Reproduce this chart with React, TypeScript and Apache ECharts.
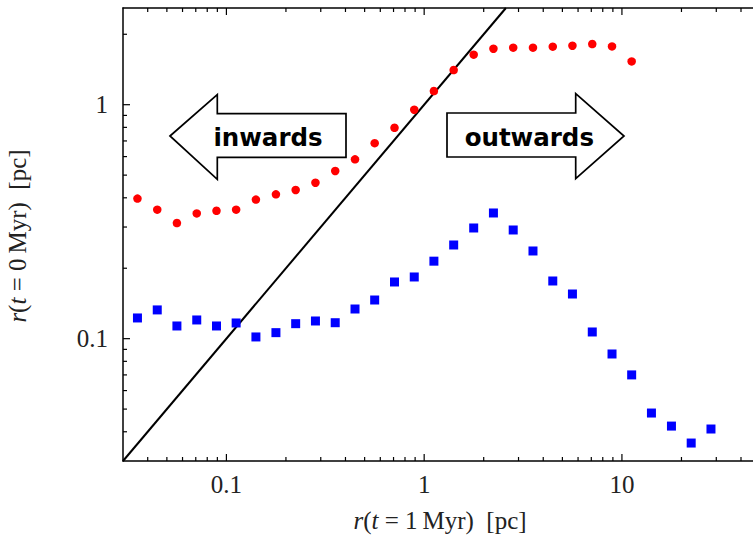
import React, { useEffect, useRef } from "react";
import * as echarts from "echarts";

// r(t = 1 Myr) bin centres [pc]
const xValues = [
  0.0355, 0.0447, 0.0562, 0.0708, 0.0891, 0.112, 0.141, 0.178, 0.224, 0.282,
  0.355, 0.447, 0.562, 0.708, 0.891, 1.12, 1.41, 1.78, 2.24, 2.82,
  3.55, 4.47, 5.62, 7.08, 8.91, 11.2, 14.1, 17.8, 22.4, 28.2,
];
// red circles: r(t = 0 Myr)
const redValues = [
  0.397, 0.356, 0.312, 0.343, 0.352, 0.356, 0.393, 0.414, 0.432, 0.464,
  0.521, 0.584, 0.685, 0.797, 0.952, 1.144, 1.407, 1.636, 1.735, 1.753,
  1.753, 1.77, 1.787, 1.817, 1.775, 1.531,
];
// blue squares: r(t = 0 Myr)
const blueValues = [
  0.1226, 0.1327, 0.1133, 0.1202, 0.1133, 0.1167, 0.1017, 0.1061, 0.1159, 0.119,
  0.117, 0.1339, 0.1463, 0.1747, 0.1835, 0.2144, 0.2514, 0.2972, 0.3445, 0.2914,
  0.237, 0.1764, 0.1552, 0.1068, 0.086, 0.07, 0.0481, 0.0423, 0.0358, 0.0411,
];

const X_MIN = 0.03;
const X_MAX = 46;
const Y_MIN = 0.03;
const Y_MAX = 2.59;

const xMajorTicks = [0.1, 1, 10];
const xMinorTicks = [
  0.04, 0.05, 0.06, 0.07, 0.08, 0.09,
  0.2, 0.3, 0.4, 0.5, 0.6, 0.7, 0.8, 0.9,
  2, 3, 4, 5, 6, 7, 8, 9,
  20, 30, 40,
];
const yMajorTicks = [0.1, 1];
const yMinorTicks = [
  0.04, 0.05, 0.06, 0.07, 0.08, 0.09,
  0.2, 0.3, 0.4, 0.5, 0.6, 0.7, 0.8, 0.9,
  2,
];

const SERIF = "Liberation Serif";
const TEXT_COLOR = "#222";

function fmtPow(v: number) {
  const l = Math.log10(v);
  const e = Math.round(l);
  if (Math.abs(l - e) > 1e-6) return "";
  return e < 0 ? v.toFixed(-e) : String(Math.round(v));
}

export default function App() {
  const ref = useRef<HTMLDivElement>(null);
  useEffect(() => {
    if (!ref.current) return;
    const chart = echarts.init(ref.current, null, { renderer: "svg" });

    const axisLine = { show: true, onZero: false, lineStyle: { color: "#000", width: 1.5 } };
    const labelStyle = {
      fontFamily: SERIF,
      fontSize: 25,
      color: TEXT_COLOR,
      formatter: fmtPow,
      showMinLabel: false,
      showMaxLabel: false,
    };

    const xTickData = [
      ...xMajorTicks.map((v) => [v, Y_MIN, 1]),
      ...xMinorTicks.map((v) => [v, Y_MIN, 0]),
    ];
    const yTickData = [
      ...yMajorTicks.map((v) => [X_MIN, v, 1]),
      ...yMinorTicks.map((v) => [X_MIN, v, 0]),
    ];

    const richBase = { fontFamily: SERIF, fontSize: 25, fill: TEXT_COLOR };
    const rich = {
      i: { ...richBase, fontStyle: "italic" },
      n: { ...richBase },
    };

    chart.setOption({
      animation: false,
      grid: { left: 123, top: 8, right: 0, bottom: 75, show: false },
      xAxis: [
        {
          type: "log",
          min: X_MIN,
          max: X_MAX,
          position: "bottom",
          axisLine,
          axisTick: { show: false },
          minorTick: { show: false },
          splitLine: { show: false },
          axisLabel: { ...labelStyle, margin: 11 },
        },
        {
          type: "log",
          min: X_MIN,
          max: X_MAX,
          position: "top",
          axisLine,
          axisTick: { show: false },
          splitLine: { show: false },
          axisLabel: { show: false },
        },
      ],
      yAxis: [
        {
          type: "log",
          min: Y_MIN,
          max: Y_MAX,
          position: "left",
          axisLine,
          axisTick: { show: false },
          minorTick: { show: false },
          splitLine: { show: false },
          axisLabel: { ...labelStyle, margin: 15 },
        },
      ],
      series: [
        {
          type: "line",
          data: [
            [X_MIN, Y_MIN],
            [Y_MAX, Y_MAX],
          ],
          symbol: "none",
          lineStyle: { color: "#000", width: 2 },
          silent: true,
          z: 1,
        },
        {
          type: "scatter",
          data: redValues.map((v, i) => [xValues[i], v]),
          symbol: "circle",
          symbolSize: 8.5,
          itemStyle: { color: "#ff0000", opacity: 1 },
          silent: true,
          z: 3,
        },
        {
          type: "scatter",
          data: blueValues.map((v, i) => [xValues[i], v]),
          symbol: "rect",
          symbolSize: 9,
          itemStyle: { color: "#0000ff", opacity: 1 },
          silent: true,
          z: 3,
        },
        {
          type: "custom",
          data: xTickData,
          silent: true,
          clip: false,
          z: 4,
          renderItem: (_p: any, api: any) => {
            const v = api.value(0);
            const len = api.value(2) ? 7 : 4;
            const b = api.coord([v, Y_MIN]);
            const t = api.coord([v, Y_MAX]);
            const style = { stroke: "#000", lineWidth: 1.2 };
            return {
              type: "group",
              children: [
                { type: "line", shape: { x1: b[0], y1: b[1], x2: b[0], y2: b[1] - len }, style },
                { type: "line", shape: { x1: t[0], y1: t[1], x2: t[0], y2: t[1] + len }, style },
              ],
            };
          },
        },
        {
          type: "custom",
          data: yTickData,
          silent: true,
          clip: false,
          z: 4,
          renderItem: (_p: any, api: any) => {
            const v = api.value(1);
            const len = api.value(2) ? 7 : 4;
            const l = api.coord([X_MIN, v]);
            return {
              type: "line",
              shape: { x1: l[0], y1: l[1], x2: l[0] + len, y2: l[1] },
              style: { stroke: "#000", lineWidth: 1.2 },
            };
          },
        },
      ],
      graphic: [
        {
          type: "polygon",
          z: 10,
          shape: {
            points: [
              [170, 136],
              [217.3, 94.7],
              [217.3, 113.7],
              [346, 113.7],
              [346, 157.3],
              [217.3, 157.3],
              [217.3, 179.3],
            ],
          },
          style: { fill: "#fff", stroke: "#000", lineWidth: 1.7 },
        },
        {
          type: "text",
          z: 11,
          x: 268,
          y: 137,
          style: {
            text: "inwards",
            fontFamily: "DejaVu Sans",
            fontWeight: "bold",
            fontSize: 24.5,
            fill: "#000",
            align: "center",
            verticalAlign: "middle",
          },
        },
        {
          type: "polygon",
          z: 10,
          shape: {
            points: [
              [447, 113],
              [575.7, 113],
              [575.7, 93.7],
              [624, 136],
              [575.7, 178.7],
              [575.7, 157],
              [447, 157],
            ],
          },
          style: { fill: "#fff", stroke: "#000", lineWidth: 1.7 },
        },
        {
          type: "text",
          z: 11,
          x: 529.3,
          y: 137,
          style: {
            text: "outwards",
            fontFamily: "DejaVu Sans",
            fontWeight: "bold",
            fontSize: 24.5,
            fill: "#000",
            align: "center",
            verticalAlign: "middle",
          },
        },
        {
          type: "text",
          z: 11,
          x: 440,
          y: 520,
          style: {
            text: "{i|r}{n|(}{i|t}{n| = 1\u2009Myr)  [pc]}",
            rich,
            ...richBase,
            align: "center",
            verticalAlign: "middle",
          },
        },
        {
          type: "text",
          z: 11,
          x: 17,
          y: 236,
          rotation: Math.PI / 2,
          style: {
            text: "{i|r}{n|(}{i|t}{n| = 0\u2009Myr)  [pc]}",
            rich,
            ...richBase,
            align: "center",
            verticalAlign: "middle",
          },
        },
      ],
    });
    return () => chart.dispose();
  }, []);

  return (
    <div
      ref={ref}
      style={{ position: "fixed", left: 0, top: 0, width: 753, height: 536, background: "#fff" }}
    />
  );
}
